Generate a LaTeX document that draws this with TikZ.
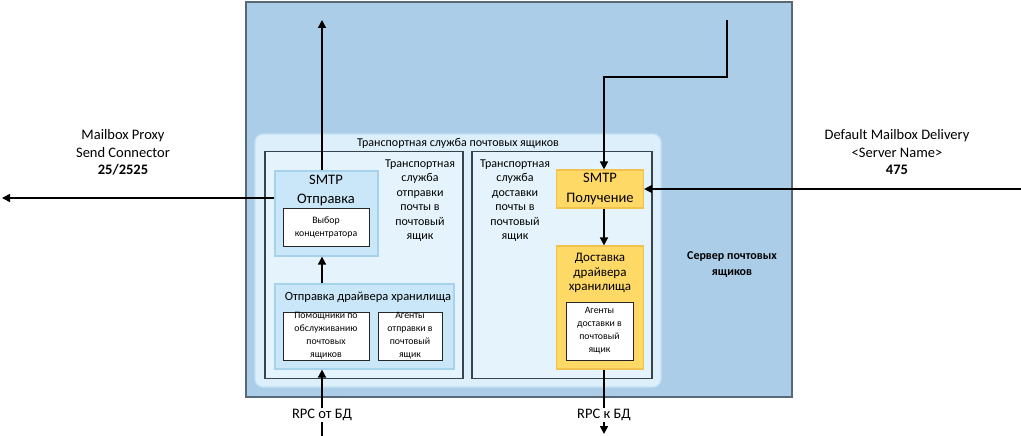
\documentclass[tikz,border=0pt]{standalone}
\usepackage{fontspec}
\setmainfont{Carlito}
\usetikzlibrary{arrows.meta}
\definecolor{srvfill}{RGB}{171,205,232}
\definecolor{srvline}{RGB}{88,104,118}
\definecolor{trfill}{RGB}{220,239,250}
\definecolor{trline}{RGB}{196,226,245}
\definecolor{svcfill}{RGB}{229,244,252}
\definecolor{svcline}{RGB}{55,68,78}
\definecolor{subfill}{RGB}{201,231,248}
\definecolor{subline}{RGB}{167,210,236}
\definecolor{yelfill}{RGB}{255,217,102}
\definecolor{yelline}{RGB}{242,193,78}
\tikzset{
  srvbox/.style={draw=srvline, fill=srvfill, line width=1.5pt, inner sep=0pt},
  trbox/.style={draw=trline, fill=trfill, line width=1.2pt, rounded corners=8pt, inner sep=0pt},
  svcbox/.style={draw=svcline, fill=svcfill, line width=1.3pt, inner sep=0pt},
  subbox/.style={draw=subline, fill=subfill, line width=1.2pt, inner sep=0pt},
  yelbox/.style={draw=yelline, fill=yelfill, line width=1.2pt, inner sep=0pt},
  whitebox/.style={draw=black!85, fill=white, line width=1pt, inner sep=0pt, align=center,
    font=\fontsize{9.8}{13}\selectfont},
  txt/.style={align=center, inner sep=0pt, font=\fontsize{12}{14.5}\selectfont},
  bigtxt/.style={align=center, inner sep=0pt, font=\fontsize{14.5}{19.5}\selectfont},
  midtxt/.style={align=center, inner sep=0pt, font=\fontsize{13}{14.5}\selectfont},
  lbl/.style={align=center, inner sep=1pt, font=\fontsize{14.5}{17.5}\selectfont},
  conn/.style={line width=1.6pt, -{Triangle[length=8pt,width=8pt]}}
}
\begin{document}
\begin{tikzpicture}[x=1pt,y=-1pt]
\useasboundingbox (0,0) rectangle (1021,436);
\node[srvbox, minimum width=546pt, minimum height=395pt] (server) at (519,199.5) {}; %mailbox server
\node[txt, font=\fontsize{12}{15.5}\selectfont\bfseries] (srvname) at (732,264.5) {Сервер почтовых\\ящиков};
\node[trbox, minimum width=406pt, minimum height=253pt] (transport) at (458,260.5) {}; %transport service
\node[txt] (trname) at (458,143) {Транспортная служба почтовых ящиков};
\node[svcbox, minimum width=198pt, minimum height=227pt] (sendsvc) at (364,265) {}; %submission service
\node[txt] (sendtxt) at (420,200.5) {Транспортная\\служба\\отправки\\почты в\\почтовый\\ящик};
\node[subbox, minimum width=103pt, minimum height=85pt] (smtpsend) at (326.5,213.5) {};
\node[bigtxt] (smtpsendtxt) at (326,190.5) {SMTP\\Отправка};
\node[whitebox, minimum width=86pt, minimum height=38pt] (hub) at (326,227) {Выбор\\концентратора};
\node[subbox, minimum width=179pt, minimum height=85pt] (storesend) at (364.5,326.5) {};
\node[midtxt, font=\fontsize{12.5}{14.5}\selectfont] (storesendtxt) at (368,297.5) {Отправка драйвера хранилища};
\node[whitebox, minimum width=86pt, minimum height=48pt] (helpers) at (326,336) {Помощники по\\обслуживанию\\почтовых\\ящиков};
\node[whitebox, minimum width=64pt, minimum height=48pt] (sendagents) at (410,336) {Агенты\\отправки в\\почтовый\\ящик};
\node[svcbox, minimum width=180pt, minimum height=227pt] (delsvc) at (562,265) {}; %delivery service
\node[txt] (deltxt) at (515,200.5) {Транспортная\\служба\\доставки\\почты в\\почтовый\\ящик};
\node[yelbox, bigtxt, minimum width=87pt, minimum height=38pt] (smtprecv) at (600,189) {SMTP\\Получение};
\node[yelbox, minimum width=87pt, minimum height=123pt] (storedel) at (600,307.5) {};
\node[midtxt] (storedeltxt) at (600,273) {Доставка\\драйвера\\хранилища};
\node[whitebox, minimum width=67pt, minimum height=58pt] (delagents) at (599.5,331) {Агенты\\доставки в\\почтовый\\ящик};
\node[lbl] (proxylbl) at (123,152.5) {Mailbox Proxy\\Send Connector\\\textbf{25/2525}};
\node[lbl] (dmdlbl) at (897,152.5) {Default Mailbox Delivery\\<Server Name>\\\textbf{475}};
\coordinate (outtop) at (322,20);
\coordinate (proxyend) at (2,198);
\coordinate (dmdstart) at (1021,189);
\coordinate (instart) at (727,20);
\coordinate (inbend) at (604,77);
\coordinate (rpcstart) at (322,436);
\coordinate (rpcend) at (604,434);
\draw[conn] (smtpsend.north -| outtop) -- (outtop); %to proxy
\draw[conn] (smtpsend.west |- proxyend) -- (proxyend);
\draw[conn] (dmdstart) -- (smtprecv.east); %from delivery
\draw[conn] (instart) |- (inbend) -- (smtprecv.north -| inbend);
\draw[conn] (storesend.north -| outtop) -- (smtpsend.south -| outtop);
\draw[conn] (smtprecv.south -| inbend) -- (storedel.north -| inbend);
\draw[conn] (rpcstart) -- (storesend.south -| rpcstart); %rpc
\draw[conn] (storedel.south -| rpcend) -- (rpcend);
\node[lbl, fill=white] (rpcin) at (322,415) {RPC от БД};
\node[lbl, fill=white] (rpcout) at (604,415) {RPC к БД};
\end{tikzpicture}
\end{document}
